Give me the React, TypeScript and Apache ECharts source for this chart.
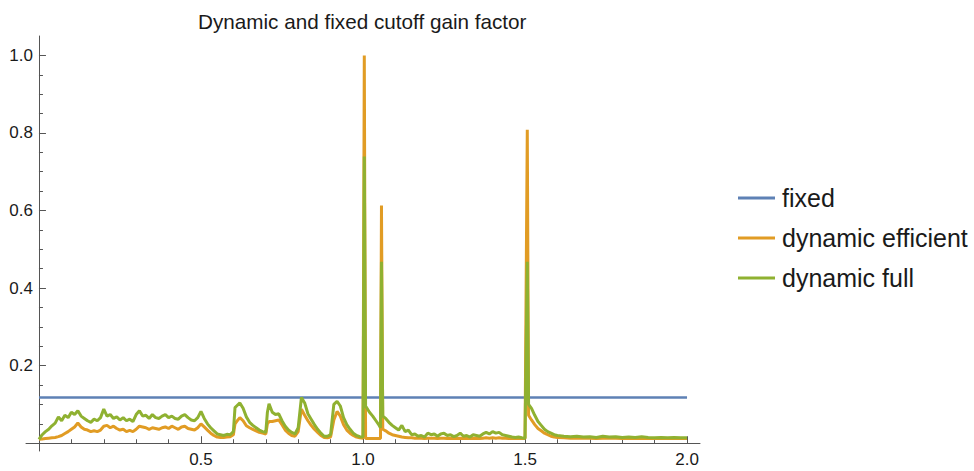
import React, { useEffect, useRef } from "react";
import * as echarts from "echarts";

// x positions of samples
const xs: number[] = [
  0.0, 0.01, 0.02, 0.03, 0.04, 0.05, 0.06, 0.07, 0.08, 0.09,
  0.1, 0.11, 0.12, 0.13, 0.14, 0.15, 0.16, 0.17, 0.18, 0.19,
  0.2, 0.21, 0.22, 0.23, 0.24, 0.25, 0.26, 0.27, 0.28, 0.29,
  0.3, 0.31, 0.32, 0.33, 0.34, 0.35, 0.36, 0.37, 0.38, 0.39,
  0.4, 0.41, 0.42, 0.43, 0.44, 0.45, 0.46, 0.47, 0.48, 0.49,
  0.5, 0.51, 0.52, 0.53, 0.54, 0.55, 0.56, 0.57, 0.58, 0.59,
  0.6, 0.605, 0.61, 0.62, 0.63, 0.64, 0.65, 0.66, 0.67, 0.68, 0.69,
  0.7, 0.705, 0.71, 0.72, 0.73, 0.74, 0.75, 0.76, 0.77, 0.78, 0.79,
  0.8, 0.81, 0.82, 0.83, 0.84, 0.85, 0.86, 0.87, 0.88, 0.89,
  0.9, 0.91, 0.92, 0.93, 0.94, 0.95, 0.96, 0.97, 0.98, 0.99,
  1.0, 1.004, 1.008, 1.02, 1.03, 1.04, 1.05, 1.054, 1.057, 1.061,
  1.07, 1.08, 1.09, 1.1, 1.11, 1.12, 1.13, 1.14, 1.15, 1.16,
  1.17, 1.18, 1.19, 1.2, 1.21, 1.22, 1.23, 1.24, 1.25, 1.26,
  1.27, 1.28, 1.29, 1.3, 1.31, 1.32, 1.33, 1.34, 1.35, 1.36,
  1.37, 1.38, 1.39, 1.4, 1.41, 1.42, 1.43, 1.44, 1.45, 1.46,
  1.47, 1.48, 1.49, 1.5, 1.507, 1.511, 1.52, 1.53, 1.54, 1.55,
  1.56, 1.57, 1.58, 1.59, 1.6, 1.62, 1.64, 1.66, 1.68, 1.7,
  1.72, 1.74, 1.76, 1.78, 1.8, 1.82, 1.84, 1.86, 1.88, 1.9,
  1.92, 1.94, 1.96, 1.98, 2.0,
];

// dynamic efficient (orange)
const efficient: number[] = [
  0.01, 0.011, 0.012, 0.013, 0.014, 0.015, 0.017, 0.02, 0.025, 0.03,
  0.036, 0.042, 0.052, 0.042, 0.036, 0.034, 0.03, 0.032, 0.03, 0.034,
  0.044, 0.046, 0.04, 0.044, 0.038, 0.034, 0.036, 0.03, 0.033, 0.03,
  0.036, 0.044, 0.042, 0.04, 0.036, 0.04, 0.038, 0.036, 0.04, 0.042,
  0.038, 0.044, 0.04, 0.036, 0.042, 0.044, 0.038, 0.036, 0.034, 0.04,
  0.05, 0.042, 0.034, 0.026, 0.02, 0.016, 0.015, 0.015, 0.016, 0.017,
  0.022, 0.05, 0.056, 0.066, 0.058, 0.045, 0.04, 0.036, 0.032, 0.028, 0.026,
  0.024, 0.05, 0.056, 0.056, 0.058, 0.06, 0.048, 0.034, 0.026, 0.02, 0.018,
  0.03, 0.088, 0.072, 0.058, 0.046, 0.036, 0.028, 0.02, 0.015, 0.014,
  0.016, 0.06, 0.082, 0.07, 0.048, 0.034, 0.026, 0.02, 0.016, 0.014,
  0.013, 1.0, 0.012, 0.012, 0.012, 0.012, 0.012, 0.012, 0.613, 0.036,
  0.032, 0.026, 0.022, 0.02, 0.018, 0.016, 0.015, 0.014, 0.014, 0.013,
  0.013, 0.013, 0.012, 0.013, 0.013, 0.013, 0.012, 0.013, 0.013, 0.012,
  0.013, 0.012, 0.012, 0.013, 0.012, 0.012, 0.012, 0.013, 0.012, 0.012,
  0.013, 0.014, 0.013, 0.014, 0.013, 0.014, 0.013, 0.013, 0.012, 0.012,
  0.012, 0.012, 0.012, 0.012, 0.808, 0.072, 0.06, 0.048, 0.038, 0.032,
  0.026, 0.022, 0.018, 0.016, 0.015, 0.014, 0.013, 0.013, 0.013, 0.013,
  0.012, 0.013, 0.013, 0.013, 0.012, 0.012, 0.012, 0.013, 0.012, 0.012,
  0.012, 0.012, 0.012, 0.012, 0.012,
];

// dynamic full (green)
const full: number[] = [
  0.01, 0.022, 0.03, 0.036, 0.045, 0.052, 0.068, 0.058, 0.072, 0.066,
  0.08, 0.074, 0.084, 0.07, 0.064, 0.058, 0.054, 0.062, 0.058, 0.066,
  0.088, 0.07, 0.074, 0.064, 0.068, 0.06, 0.066, 0.058, 0.062, 0.056,
  0.074, 0.084, 0.07, 0.072, 0.064, 0.074, 0.066, 0.064, 0.07, 0.074,
  0.066, 0.07, 0.064, 0.062, 0.07, 0.074, 0.066, 0.06, 0.058, 0.066,
  0.082, 0.064, 0.05, 0.04, 0.032, 0.024, 0.022, 0.02, 0.023, 0.022,
  0.03, 0.092, 0.096, 0.104, 0.09, 0.068, 0.054, 0.046, 0.04, 0.034, 0.03,
  0.028, 0.08, 0.102, 0.08, 0.074, 0.076, 0.058, 0.044, 0.034, 0.028, 0.024,
  0.04, 0.118, 0.104, 0.076, 0.062, 0.048, 0.036, 0.026, 0.018, 0.018,
  0.022, 0.1, 0.108, 0.096, 0.066, 0.048, 0.036, 0.026, 0.02, 0.017,
  0.016, 0.739, 0.096, 0.08, 0.07, 0.058, 0.046, 0.04, 0.468, 0.07,
  0.064, 0.054, 0.046, 0.04, 0.034, 0.046, 0.03, 0.034, 0.022, 0.024,
  0.018, 0.02, 0.016, 0.026, 0.022, 0.024, 0.018, 0.024, 0.026, 0.02,
  0.022, 0.017, 0.02, 0.026, 0.018, 0.02, 0.016, 0.022, 0.02, 0.018,
  0.024, 0.028, 0.024, 0.03, 0.026, 0.028, 0.022, 0.02, 0.018, 0.016,
  0.015, 0.016, 0.014, 0.013, 0.468, 0.1, 0.09, 0.072, 0.056, 0.046,
  0.036, 0.03, 0.026, 0.022, 0.02, 0.018, 0.017, 0.018, 0.016, 0.017,
  0.015, 0.018, 0.016, 0.017, 0.015, 0.016, 0.015, 0.017, 0.015, 0.014,
  0.015, 0.014, 0.015, 0.014, 0.014,
];

const fixedValue = 0.118;
const fixedRange = [0, 2];

const xMajorTicks = [0.5, 1.0, 1.5, 2.0];
const xMinorTicks = [0.1, 0.2, 0.3, 0.4, 0.6, 0.7, 0.8, 0.9, 1.1, 1.2, 1.3, 1.4, 1.6, 1.7, 1.8, 1.9];
const yMajorTicks = [0.2, 0.4, 0.6, 0.8, 1.0];
const yMinorTicks = [0.05, 0.1, 0.15, 0.25, 0.3, 0.35, 0.45, 0.5, 0.55, 0.65, 0.7, 0.75, 0.85, 0.9, 0.95];

const seriesNames = ["fixed", "dynamic efficient", "dynamic full"];
const colors = ["#5e81b5", "#e19c24", "#8fb131"];
const titleText = "Dynamic and fixed cutoff gain factor";

const FONT = "'Liberation Sans', Arial, sans-serif";
const AXIS_COLOR = "#555555";

export default function App() {
  const ref = useRef<HTMLDivElement>(null);

  useEffect(() => {
    if (!ref.current) return;
    const chart = echarts.init(ref.current, null, { renderer: "svg" });

    const xMin = -0.04, xMax = 2.04, yMin = -0.02, yMax = 1.05;

    const xAxisBase = {
      type: "value" as const,
      min: xMin,
      max: xMax,
      position: "bottom" as const,
      splitLine: { show: false },
    };
    const yAxisBase = {
      type: "value" as const,
      min: yMin,
      max: yMax,
      position: "left" as const,
      splitLine: { show: false },
    };

    chart.setOption({
      animation: false,
      backgroundColor: "#ffffff",
      color: colors,
      title: {
        text: titleText,
        left: 198,
        top: 11,
        padding: 0,
        textStyle: { fontFamily: FONT, fontSize: 20.7, fontWeight: "normal", color: "#1a1a1a" },
      },
      legend: {
        orient: "vertical",
        left: 733,
        top: 179,
        itemWidth: 37,
        itemHeight: 3,
        itemGap: 12,
        icon: "rect",
        data: seriesNames,
        textStyle: {
          fontFamily: FONT,
          fontSize: 25,
          lineHeight: 28,
          color: "#1a1a1a",
          padding: [0, 0, 0, 2],
        },
      },
      grid: { left: 26, right: 274, top: 36, bottom: 20, containLabel: false, outerBoundsMode: "none" },
      xAxis: [
        {
          ...xAxisBase,
          axisLine: { show: true, onZero: true, onZeroAxisIndex: 0, lineStyle: { color: AXIS_COLOR, width: 1 } },
          axisTick: { show: true, inside: true, length: 7, customValues: xMajorTicks, lineStyle: { color: AXIS_COLOR } },
          axisLabel: {
            show: true,
            customValues: xMajorTicks,
            formatter: (v: number) => v.toFixed(1),
            fontFamily: FONT,
            fontSize: 17,
            color: "#1a1a1a",
            margin: 0,
          },
        },
        {
          ...xAxisBase,
          axisLine: { show: false, onZero: true, onZeroAxisIndex: 0 },
          axisTick: { show: true, inside: true, length: 4, customValues: xMinorTicks, lineStyle: { color: AXIS_COLOR } },
          axisLabel: { show: false },
        },
      ],
      yAxis: [
        {
          ...yAxisBase,
          axisLine: { show: true, onZero: true, onZeroAxisIndex: 0, lineStyle: { color: AXIS_COLOR, width: 1 } },
          axisTick: { show: true, inside: true, length: 7, customValues: yMajorTicks, lineStyle: { color: AXIS_COLOR } },
          axisLabel: {
            show: true,
            customValues: yMajorTicks,
            formatter: (v: number) => v.toFixed(1),
            fontFamily: FONT,
            fontSize: 17,
            color: "#1a1a1a",
            margin: -7,
          },
        },
        {
          ...yAxisBase,
          axisLine: { show: false, onZero: true, onZeroAxisIndex: 0 },
          axisTick: { show: true, inside: true, length: 4, customValues: yMinorTicks, lineStyle: { color: AXIS_COLOR } },
          axisLabel: { show: false },
        },
      ],
      series: [
        {
          name: seriesNames[0],
          type: "line",
          xAxisIndex: 0,
          yAxisIndex: 0,
          showSymbol: false,
          data: fixedRange.map((x) => [x, fixedValue]),
          lineStyle: { color: colors[0], width: 2.5 },
          itemStyle: { color: colors[0] },
        },
        {
          name: seriesNames[1],
          type: "line",
          xAxisIndex: 0,
          yAxisIndex: 0,
          showSymbol: false,
          data: xs.map((x, i) => [x, efficient[i]]),
          lineStyle: { color: colors[1], width: 3, join: "bevel" },
          itemStyle: { color: colors[1] },
        },
        {
          name: seriesNames[2],
          type: "line",
          xAxisIndex: 0,
          yAxisIndex: 0,
          showSymbol: false,
          data: xs.map((x, i) => [x, full[i]]),
          lineStyle: { color: colors[2], width: 3, join: "bevel" },
          itemStyle: { color: colors[2] },
        },
      ],
    });

    return () => chart.dispose();
  }, []);

  return (
    <div
      ref={ref}
      style={{ position: "fixed", left: 0, top: 0, width: 974, height: 471, background: "#fff" }}
    />
  );
}
